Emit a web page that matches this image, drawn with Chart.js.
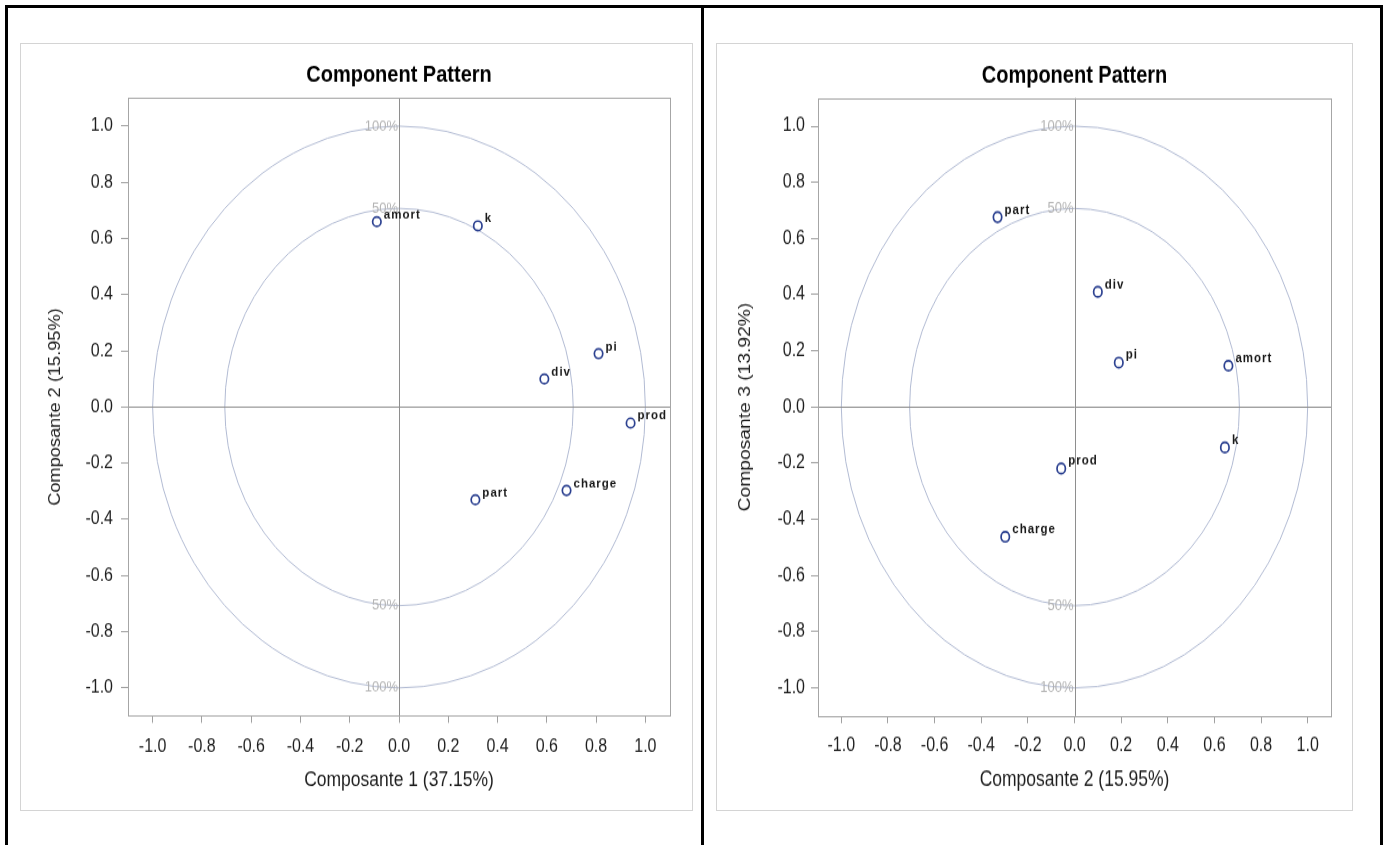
<!DOCTYPE html>
<html>
<head>
<meta charset="utf-8">
<script src="https://cdn.jsdelivr.net/npm/chart.js@4.4.1/dist/chart.umd.min.js"></script>
<style>
  body{margin:0;background:#fff;width:1389px;height:845px;overflow:hidden;position:relative}
  .cell{position:absolute;top:5px;height:900px;border:3px solid #000;box-sizing:border-box}
  .frame{position:absolute;top:43px;height:768px;border:1px solid #d4d4d4;box-sizing:border-box}
  .wrap{position:absolute;top:43px;transform-origin:0 0}
  .wrap canvas{display:block}
</style>
</head>
<body>
<div class="cell" style="left:5px;width:699px"></div>
<div class="cell" style="left:701px;width:682px"></div>
<div class="frame" style="left:20px;width:673px"></div>
<div class="frame" style="left:716px;width:637px"></div>
<div class="wrap" id="wrapA" style="left:20px"><canvas id="chartA" width="672" height="673"></canvas></div>
<div class="wrap" id="wrapB" style="left:716px"><canvas id="chartB" width="636" height="637"></canvas></div>
<script>
// loadings
var variables = ['amort', 'k', 'pi', 'div', 'prod', 'part', 'charge'];
var comp1 = [-0.09, 0.32, 0.81, 0.59, 0.94, 0.31, 0.68];
var comp2 = [0.66, 0.645, 0.19, 0.10, -0.057, -0.33, -0.297];
var comp3 = [0.147, -0.144, 0.158, 0.41, -0.219, 0.676, -0.462];

var tickValues = [-1.0, -0.8, -0.6, -0.4, -0.2, 0.0, 0.2, 0.4, 0.6, 0.8, 1.0];
var tickLabels = ['-1.0', '-0.8', '-0.6', '-0.4', '-0.2', '0.0', '0.2', '0.4', '0.6', '0.8', '1.0'];
var circleRadii = [1.0, 0.7071];
var circleLabels = ['100%', '50%'];
var axisTitles = ['Composante 1 (37.15%)', 'Composante 2 (15.95%)', 'Composante 3 (13.92%)'];
var chartTitle = 'Component Pattern';

var FONT = '"Liberation Sans", Arial, Helvetica, sans-serif';

var tickLabel = function(v){
  var i = tickValues.findIndex(function(t){ return Math.abs(t - v) < 1e-9; });
  return i < 0 ? '' : tickLabels[i];
};

// cercles, axes à zéro, cadre
var patternPlugin = {
  id: 'pattern',
  beforeDatasetsDraw: function(chart){
    var ctx = chart.ctx, xs = chart.scales.x, ys = chart.scales.y, a = chart.chartArea;
    var x0 = xs.getPixelForValue(0), y0 = ys.getPixelForValue(0);
    ctx.save();
    ctx.strokeStyle = '#b2bbd3';
    ctx.lineWidth = 1;
    circleRadii.forEach(function(r){
      var rx = xs.getPixelForValue(r) - x0, ry = y0 - ys.getPixelForValue(r);
      ctx.beginPath();
      ctx.ellipse(x0, y0, rx, ry, 0, 0, Math.PI * 2);
      ctx.stroke();
    });
    ctx.fillStyle = '#b4b4b4';
    ctx.font = '13px ' + FONT;
    ctx.textAlign = 'right';
    ctx.textBaseline = 'middle';
    circleRadii.forEach(function(r, i){
      ctx.fillText(circleLabels[i], x0 - 1, ys.getPixelForValue(r));
      ctx.fillText(circleLabels[i], x0 - 1, ys.getPixelForValue(-r));
    });
    ctx.strokeStyle = '#8e8e8e';
    ctx.beginPath();
    ctx.moveTo(Math.round(x0) + 0.5, a.top);
    ctx.lineTo(Math.round(x0) + 0.5, a.bottom);
    ctx.moveTo(a.left, Math.round(y0) + 0.5);
    ctx.lineTo(a.right, Math.round(y0) + 0.5);
    ctx.stroke();
    ctx.strokeStyle = '#a6a6a6';
    ctx.strokeRect(Math.round(a.left) + 0.5, Math.round(a.top) + 0.5, Math.round(a.right - a.left), Math.round(a.bottom - a.top));
    ctx.restore();
  },
  afterDatasetsDraw: function(chart){
    var ctx = chart.ctx, meta = chart.getDatasetMeta(0);
    ctx.save();
    ctx.font = 'bold 11.5px ' + FONT;
    if('letterSpacing' in ctx) ctx.letterSpacing = '1px';
    ctx.fillStyle = '#1a1a1a';
    ctx.textAlign = 'left';
    ctx.textBaseline = 'alphabetic';
    meta.data.forEach(function(pt, i){
      ctx.fillText(variables[i], pt.x + 7, pt.y - 3);
    });
    ctx.restore();
  }
};

var makeChart = function(id, wrapId, xs, ys, xTitle, yTitle, g){
  var canvas = document.getElementById(id);
  document.getElementById(wrapId).style.transform = 'scaleY(' + (767 / canvas.height) + ')';
  var points = variables.map(function(v, i){ return { x: xs[i], y: ys[i] }; });
  var axis = function(tickLen, tickPad, fit){
    return {
      type: 'linear', min: -1.1, max: 1.1,
      afterBuildTicks: function(s){ s.ticks = tickValues.map(function(v){ return { value: v }; }); },
      afterFit: fit,
      grid: { drawOnChartArea: false, drawTicks: true, tickLength: tickLen, color: '#a0a0a0' },
      border: { display: false },
      ticks: { padding: tickPad, color: '#1e1e1e', font: { family: FONT, size: 16 }, autoSkip: false, maxRotation: 0, callback: tickLabel }
    };
  };
  var x = axis(6, g.xTickPad, function(s){ s.height = g.xHeight; });
  x.title = { display: true, text: xTitle, color: '#1e1e1e', font: { family: FONT, size: 17.5 }, padding: { top: 0, bottom: g.xTitlePad } };
  var y = axis(7, g.yTickPad, function(s){ s.width = g.yWidth; });
  y.title = { display: true, text: yTitle, color: '#1e1e1e', font: { family: FONT, size: 16 }, padding: { top: g.yTitlePad, bottom: 0 } };

  return new Chart(canvas, {
    type: 'scatter',
    data: { datasets: [{
      data: points,
      pointStyle: 'circle', pointRadius: 4.2, pointHoverRadius: 4.2,
      pointBorderWidth: 1.7, pointBorderColor: '#2b4090', pointBackgroundColor: 'rgba(255,255,255,0)'
    }] },
    options: {
      responsive: false, animation: false, devicePixelRatio: 1,
      layout: { padding: { left: 0, right: g.padRight, top: 0, bottom: 0 } },
      plugins: {
        legend: { display: false }, tooltip: { enabled: false },
        title: { display: true, text: chartTitle, fullSize: false, color: '#000',
          font: { family: FONT, size: 20, weight: 'bold' }, padding: { top: g.titleTop, bottom: g.titleBottom } }
      },
      scales: { x: x, y: y }
    },
    plugins: [patternPlugin]
  });
};

makeChart('chartA', 'wrapA', comp1, comp2, axisTitles[0], axisTitles[1],
  { yWidth: 108, xHeight: 82.5, padRight: 22, titleTop: 16.6, titleBottom: 7.7, yTickPad: 8, xTickPad: 11, yTitlePad: 26.4, xTitlePad: 15.3 });
makeChart('chartB', 'wrapB', comp2, comp3, axisTitles[1], axisTitles[2],
  { yWidth: 102, xHeight: 78.1, padRight: 21, titleTop: 15.1, titleBottom: 6.6, yTickPad: 6, xTickPad: 9.5, yTitlePad: 20.4, xTitlePad: 14 });
</script>
</body>
</html>
